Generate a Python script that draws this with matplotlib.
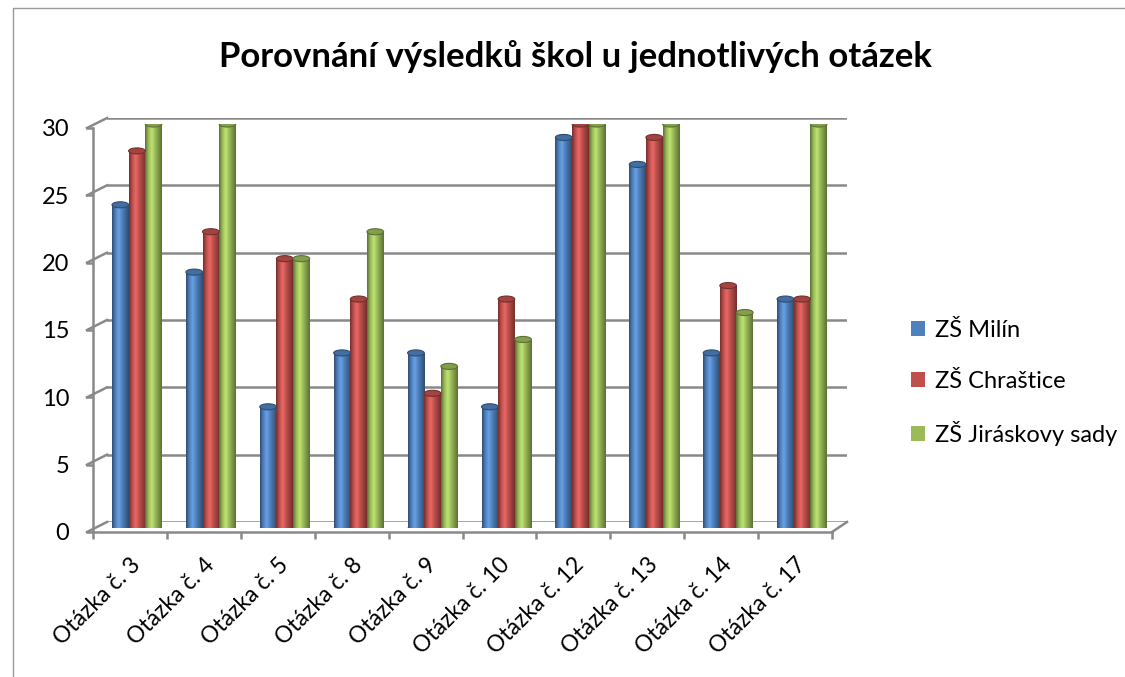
import matplotlib.pyplot as plt
import numpy as np
from matplotlib.colors import LinearSegmentedColormap
from matplotlib.patches import Patch, Ellipse, Rectangle
from matplotlib.lines import Line2D

plt.rcParams['font.family'] = ['Lato', 'DejaVu Sans']

questions = ['Otázka č. 3', 'Otázka č. 4', 'Otázka č. 5', 'Otázka č. 8', 'Otázka č. 9',
             'Otázka č. 10', 'Otázka č. 12', 'Otázka č. 13', 'Otázka č. 14', 'Otázka č. 17']
schools = ['ZŠ Milín', 'ZŠ Chraštice', 'ZŠ Jiráskovy sady']
milin = [24, 19, 9, 13, 13, 9, 29, 27, 13, 17]
chrastice = [28, 22, 20, 17, 10, 17, 30, 29, 18, 17]
jiraskovy = [30, 30, 20, 22, 12, 14, 30, 30, 16, 30]
colors = ['#4F81BD', '#C0504D', '#9BBB59']

W, H = 1125, 677
fig = plt.figure(figsize=(W / 100, H / 100), dpi=100)


def rect(x0, y0, x1, y1):
    # pixel box (top-left origin) -> figure fraction
    return [x0 / W, 1 - y1 / H, (x1 - x0) / W, (y1 - y0) / H]


grid_c = '#898989'
n = len(questions)

# back wall (gridlines)
back = fig.add_axes(rect(107, 118, 847, 522))
back.set_xlim(0, n)
back.set_ylim(0, 30)
back.axis('off')
for v in range(0, 31, 5):
    back.axhline(v, color=grid_c, lw=1.8, zorder=0)

# front axis (ticks and labels)
front = fig.add_axes(rect(93, 128, 832, 532))
front.set_facecolor('none')
front.set_xlim(0, n)
front.set_ylim(0, 30)
for s in ['top', 'right']:
    front.spines[s].set_visible(False)
for s in ['left', 'bottom']:
    front.spines[s].set_color(grid_c)
    front.spines[s].set_linewidth(1.8)
front.set_yticks(range(0, 31, 5))
front.set_xticks(range(0, n + 1))
front.set_xticklabels([])
front.set_xticks(np.arange(n) + 0.5, minor=True)
front.set_xticklabels(questions, minor=True, rotation=45, ha='right', va='top',
                      rotation_mode='anchor', fontsize=16.5)
front.tick_params(axis='x', which='minor', length=0, pad=16)
front.tick_params(axis='both', which='major', color=grid_c, width=1.8, length=5,
                  labelsize=17)
front.tick_params(axis='y', pad=12)

# 3D edges: connectors between front axis and back wall
for v in range(0, 31, 5):
    yf = 532 - v * (404 / 30)
    yb = 522 - v * (404 / 30)
    fig.add_artist(Line2D([87 / W, 107 / W], [1 - yf / H, 1 - yb / H],
                          color=grid_c, lw=1.8))
fig.add_artist(Line2D([832 / W, 847 / W], [1 - 532 / H, 1 - 522 / H], color=grid_c, lw=1.8))

# bars at mid depth
mid = fig.add_axes(rect(100, 124, 839, 528))
mid.set_facecolor('none')
mid.set_xlim(0, n)
mid.set_ylim(0, 30)
mid.axis('off')

bw = 0.225
cap_h = 0.45
grad = np.linspace(0, 1, 64).reshape(1, -1)
for k, vals in enumerate([milin, chrastice, jiraskovy]):
    base = np.array(plt.matplotlib.colors.to_rgb(colors[k]))
    dark = base * 0.6
    light = np.minimum(base * 1.15 + 0.05, 1)
    cmap = LinearSegmentedColormap.from_list('c%d' % k,
                                             [dark, base, light, base, base * 0.8, dark])
    for i, v in enumerate(vals):
        xc = i + 0.5 + (k - 1) * bw
        x0 = xc - bw / 2
        r = Rectangle((x0, 0), bw, v, facecolor=colors[k], edgecolor='none', zorder=2)
        mid.add_patch(r)
        im = mid.imshow(grad, extent=[x0, x0 + bw, 0, v], aspect='auto', cmap=cmap,
                        zorder=2.1, interpolation='bilinear')
        im.set_clip_path(r)
        mid.add_patch(Ellipse((xc, 0), bw, cap_h, facecolor=dark, edgecolor='none', zorder=1.9))
        mid.add_patch(Ellipse((xc, v), bw, cap_h, facecolor=base * 0.85,
                              edgecolor=dark, lw=0.8, zorder=2.2))
mid.set_xlim(0, n)
mid.set_ylim(0, 30)

fig.text(575 / W, 1 - 57 / H, 'Porovnání výsledků škol u jednotlivých otázek',
         ha='center', va='center', fontsize=25, fontweight='bold')

handles = [Patch(facecolor=c) for c in colors]
fig.legend(handles, schools, loc='center left', bbox_to_anchor=(890 / W, 1 - 383 / H),
           frameon=False, fontsize=17, handlelength=0.6, handleheight=0.6,
           handletextpad=0.4, labelspacing=1.25)

# chart area border
fig.add_artist(Line2D([13 / W, 13 / W, 1], [0, 1 - 8 / H, 1 - 8 / H], color='#9a9a9a', lw=1))

fig.savefig('out.png', dpi=100)
